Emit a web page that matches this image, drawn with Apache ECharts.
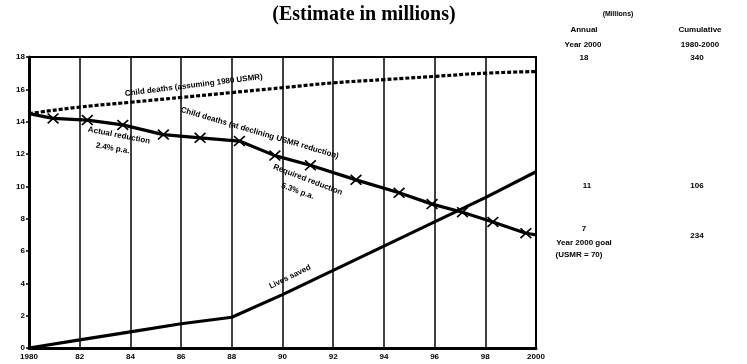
<!DOCTYPE html>
<html>
<head>
<meta charset="utf-8">
<script src="https://cdn.jsdelivr.net/npm/echarts@6/dist/echarts.min.js"></script>
<style>
html,body{margin:0;padding:0;background:#fff;}
#main{width:747px;height:364px;}
</style>
</head>
<body>
<div id="main"></div>
<script>
// data (millions)
var years=[1980,1982,1984,1986,1988,1990,1992,1994,1996,1998,2000];
var noReduction=[14.5,14.9,15.2,15.5,15.8,16.1,16.4,16.6,16.8,17.0,17.1];
var livesSaved=[0,0.5,1.0,1.5,1.9,3.3,4.8,6.3,7.8,9.3,10.9];
// declining line, points where the crosses sit
var declYears=[1980,1980.95,1982.3,1983.7,1985.3,1986.75,1988.3,1989.7,1991.1,1992.9,1994.6,1995.9,1997.1,1998.3,1999.6,2000];
var declVals=[14.5,14.2,14.1,13.8,13.2,13.0,12.8,11.9,11.3,10.4,9.6,8.9,8.4,7.8,7.1,7.0];
var yTicks=[0,2,4,6,8,10,12,14,16,18];

var FONT='"Liberation Sans", Arial, sans-serif';
var crossPath='path://M0,1L1,0L5,4L9,0L10,1L6,5L10,9L9,10L5,6L1,10L0,9L4,5Z';

function pairs(xs,vs){
	var out=[];
	for(var i=0;i<xs.length;i++){ out.push([xs[i],vs[i]]); }
	return out;
}
var declData=pairs(declYears,declVals).map(function(p,i){
	if(i==0||i==declYears.length-1){ return {value:p,symbol:'none'}; }
	return {value:p};
});

var myChart=echarts.init(document.getElementById('main'));
myChart.setOption({
	animation:false,
	backgroundColor:'#fff',
	grid:{left:29,right:211,top:57,bottom:16,show:true,borderColor:'#000',borderWidth:2,backgroundColor:'transparent'},
	xAxis:{
		type:'value',min:1980,max:2000,interval:2,
		axisLine:{show:true,lineStyle:{color:'#000',width:3}},
		axisTick:{show:false},
		splitLine:{show:true,lineStyle:{color:'#000',width:1.5}},
		axisLabel:{
			color:'#000',fontFamily:FONT,fontWeight:'bold',fontSize:8,margin:5,
			formatter:function(v){ return (v==1980||v==2000)?String(v):String(v).slice(2); }
		}
	},
	yAxis:{
		type:'value',min:yTicks[0],max:yTicks[yTicks.length-1],interval:2,
		axisLine:{show:true,lineStyle:{color:'#000',width:3}},
		axisTick:{show:true,length:3,lineStyle:{color:'#000',width:1.5}},
		splitLine:{show:false},
		axisLabel:{color:'#000',fontFamily:FONT,fontWeight:'bold',fontSize:8,margin:4}
	},
	series:[
		{
			name:'Child deaths (assuming 1980 USMR)',type:'line',smooth:true,
			data:pairs(years,noReduction),symbol:'none',
			lineStyle:{color:'#000',width:3.2,type:[4,2]}
		},
		{
			name:'Child deaths (at declining USMR reduction)',type:'line',
			data:declData,symbol:crossPath,symbolSize:[12,11],
			itemStyle:{color:'#000'},
			lineStyle:{color:'#000',width:3.2}
		},
		{
			name:'Lives saved',type:'line',
			data:pairs(years,livesSaved),symbol:'none',
			lineStyle:{color:'#000',width:3.2}
		}
	]
});

// notes on the lines, anchored in data coordinates
var notes=[
	{t:'Child deaths (assuming 1980 USMR)',at:[1986.5,16.25],r:7},
	{t:'Child deaths (at declining USMR reduction)',at:[1989.1,13.3],r:-16.5},
	{t:'Actual reduction',at:[1983.55,13.15],r:-11},
	{t:'2.4% p.a.',at:[1983.3,12.35],r:-10},
	{t:'Required reduction',at:[1991.0,10.4],r:-21},
	{t:'5.3% p.a.',at:[1990.6,9.7],r:-20},
	{t:'Lives saved',at:[1990.3,4.4],r:26}
];
var g=[];
for(var i=0;i<notes.length;i++){
	var p=myChart.convertToPixel({gridIndex:0},notes[i].at);
	g.push({type:'text',x:p[0],y:p[1],rotation:notes[i].r*Math.PI/180,
		style:{text:notes[i].t,font:'bold 8px '+FONT,fill:'#000',align:'center',verticalAlign:'middle'}});
}
// title and the small table on the right
var F8='bold 8px '+FONT;
var txt=[
	['(Estimate in millions)',364,15,'bold 20px "Liberation Serif", serif'],
	['(Millions)',618,14,'bold 7px '+FONT],
	['Annual',584,30,F8],
	['Cumulative',700,30,F8],
	['Year 2000',583,45,F8],
	['1980-2000',700,45,F8],
	['18',584,58,F8],
	['340',697,58,F8],
	['11',587,186,F8],
	['106',697,186,F8],
	['7',584,229,F8],
	['234',697,236,F8],
	['Year 2000 goal',584,243,F8],
	['(USMR = 70)',579,255,F8]
];
for(var j=0;j<txt.length;j++){
	g.push({type:'text',x:txt[j][1],y:txt[j][2],
		style:{text:txt[j][0],font:txt[j][3],fill:'#000',align:'center',verticalAlign:'middle'}});
}
myChart.setOption({graphic:g});
</script>
</body>
</html>
